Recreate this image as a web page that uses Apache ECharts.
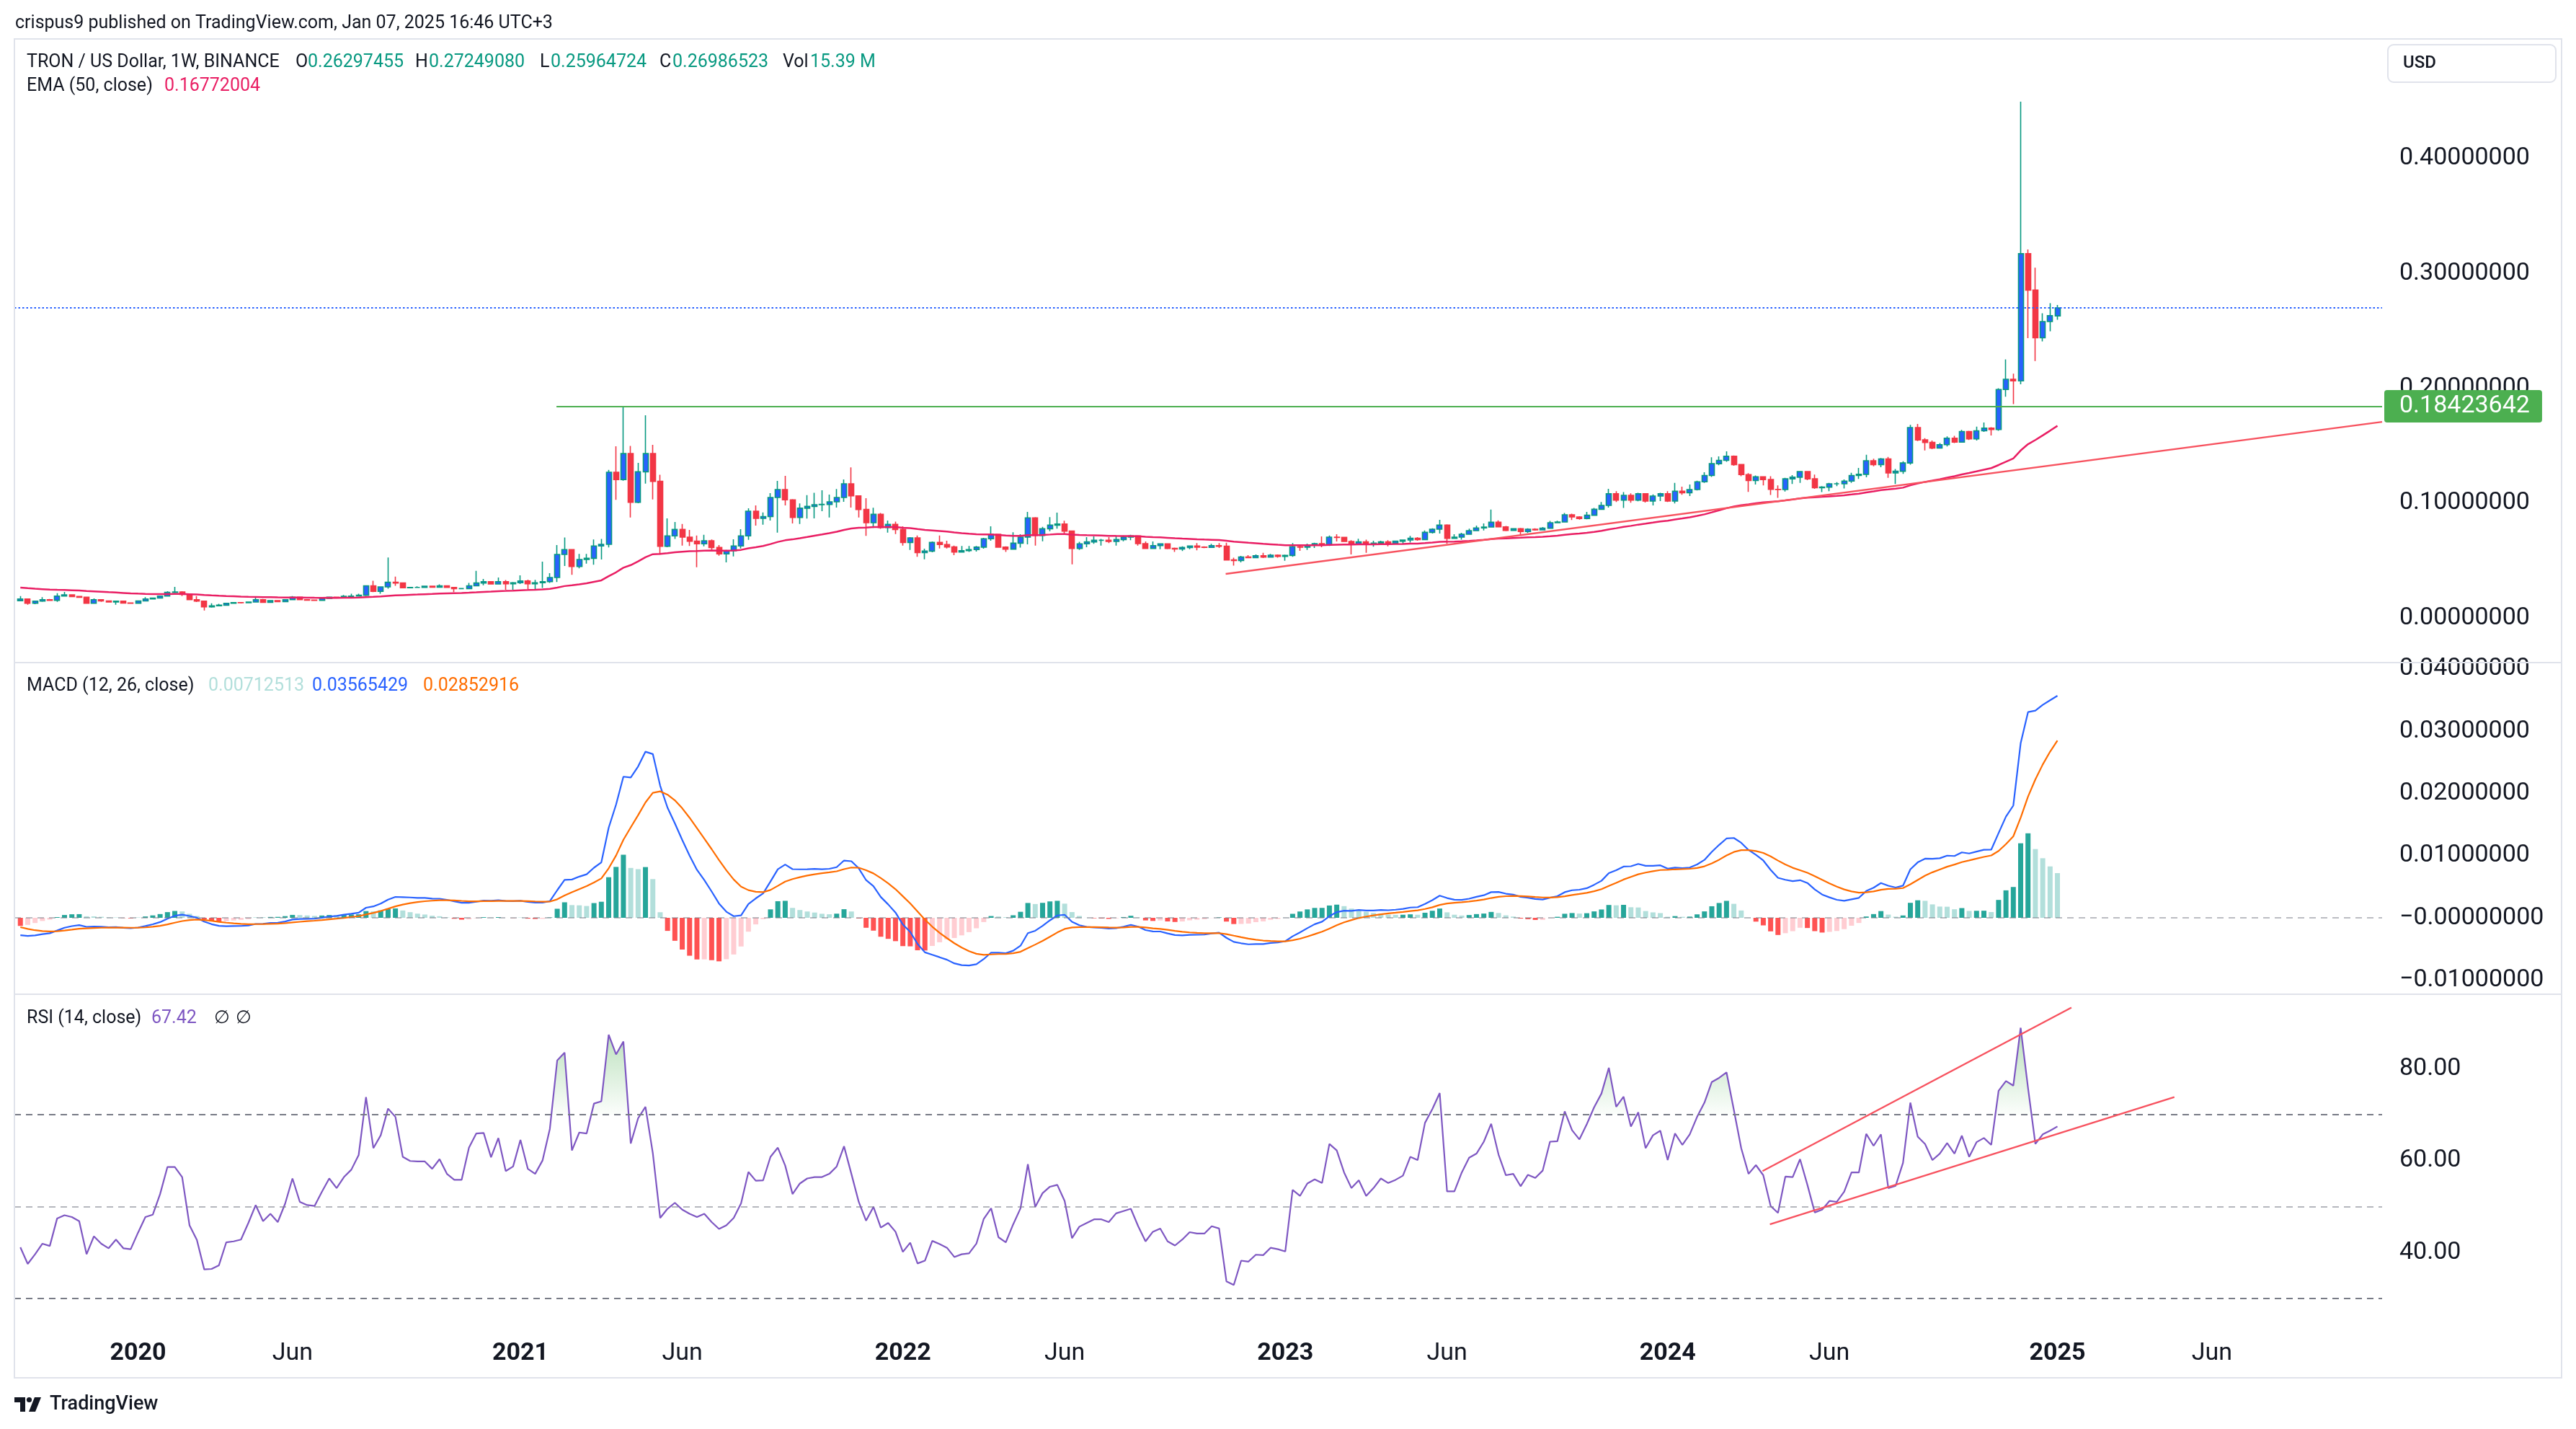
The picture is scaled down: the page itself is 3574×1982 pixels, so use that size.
<!DOCTYPE html>
<html>
<head>
<meta charset="utf-8">
<title>TRON / US Dollar, 1W, BINANCE</title>
<script src="https://cdn.jsdelivr.net/npm/echarts@6/dist/echarts.min.js"></script>
<style>
html,body{margin:0;padding:0;background:#ffffff;}
#chart{width:3574px;height:1982px;}
</style>
</head>
<body>
<div id="chart"></div>
<script>
// ---------- DATA (weekly bars, index 0 = week of 16 Sep 2019) ----------
const closes = [
0.0165,0.0127,0.0146,0.0159,0.0153,0.0190,0.0201,0.0186,0.0180,0.0127,
0.0159,0.0148,0.0138,0.0146,0.0130,0.0128,0.0148,0.0165,0.0173,0.0190,
0.0222,0.0226,0.0205,0.0159,0.0146,0.0096,0.0105,0.0111,0.0127,0.0134,
0.0132,0.0138,0.0159,0.0136,0.0150,0.0142,0.0159,0.0180,0.0159,0.0155,
0.0152,0.0170,0.0180,0.0174,0.0188,0.0190,0.0197,0.0280,0.0232,0.0270,
0.0310,0.0304,0.0262,0.0265,0.0265,0.0276,0.0268,0.0280,0.0265,0.0255,
0.0255,0.0280,0.0304,0.0316,0.0295,0.0316,0.0297,0.0306,0.0321,0.0297,
0.0306,0.0316,0.0352,0.0553,0.0595,0.0448,0.0509,0.0519,0.0626,0.0641,
0.1268,0.1205,0.1431,0.1007,0.1272,0.1431,0.1189,0.0624,0.0714,0.0770,
0.0703,0.0668,0.0645,0.0672,0.0613,0.0557,0.0584,0.0626,0.0714,0.0929,
0.0867,0.0882,0.1049,0.1118,0.1028,0.0875,0.0955,0.0971,0.0986,0.0988,
0.1011,0.1049,0.1168,0.1063,0.0944,0.0829,0.0902,0.0787,0.0814,0.0770,
0.0657,0.0697,0.0568,0.0582,0.0657,0.0639,0.0618,0.0574,0.0586,0.0595,
0.0616,0.0689,0.0728,0.0616,0.0599,0.0651,0.0703,0.0871,0.0718,0.0776,
0.0808,0.0818,0.0756,0.0605,0.0645,0.0662,0.0676,0.0676,0.0666,0.0682,
0.0703,0.0714,0.0647,0.0605,0.0630,0.0645,0.0605,0.0600,0.0613,0.0626,
0.0616,0.0614,0.0630,0.0624,0.0505,0.0500,0.0530,0.0525,0.0542,0.0530,
0.0546,0.0536,0.0544,0.0620,0.0616,0.0636,0.0647,0.0634,0.0703,0.0701,
0.0666,0.0641,0.0662,0.0641,0.0651,0.0662,0.0651,0.0668,0.0678,0.0693,
0.0682,0.0745,0.0772,0.0808,0.0693,0.0703,0.0728,0.0760,0.0783,0.0791,
0.0833,0.0793,0.0762,0.0776,0.0752,0.0772,0.0766,0.0781,0.0829,0.0835,
0.0898,0.0879,0.0866,0.0894,0.0946,0.0980,0.1081,0.1026,0.1067,0.1026,
0.1081,0.1018,0.1061,0.1081,0.1018,0.1104,0.1090,0.1118,0.1185,0.1240,
0.1343,0.1372,0.1407,0.1335,0.1248,0.1196,0.1228,0.1205,0.1119,0.1118,
0.1211,0.1225,0.1274,0.1211,0.1133,0.1139,0.1168,0.1168,0.1191,0.1240,
0.1250,0.1369,0.1335,0.1384,0.1263,0.1277,0.1349,0.1658,0.1550,0.1528,
0.1479,0.1508,0.1565,0.1530,0.1623,0.1559,0.1629,0.1652,0.1640,0.1989,
0.2078,0.2064,0.3171,0.2854,0.2439,0.2580,0.2632,0.26986523
];
const highs = [
0.0190,0.0167,0.0150,0.0180,0.0165,0.0215,0.0226,0.0203,0.0190,0.0182,
0.0170,0.0163,0.0150,0.0150,0.0148,0.0133,0.0152,0.0180,0.0178,0.0193,
0.0232,0.0270,0.0232,0.0212,0.0190,0.0150,0.0127,0.0122,0.0130,0.0138,
0.0138,0.0142,0.0180,0.0165,0.0155,0.0152,0.0163,0.0190,0.0182,0.0162,
0.0160,0.0175,0.0185,0.0183,0.0200,0.0210,0.0211,0.0285,0.0323,0.0275,
0.0526,0.0360,0.0305,0.0270,0.0275,0.0280,0.0280,0.0292,0.0282,0.0268,
0.0260,0.0305,0.0410,0.0340,0.0318,0.0352,0.0330,0.0312,0.0370,0.0333,
0.0331,0.0490,0.0389,0.0634,0.0700,0.0600,0.0557,0.0557,0.0683,0.0687,
0.1289,0.1494,0.1842,0.1498,0.1350,0.1764,0.1507,0.1247,0.0867,0.0835,
0.0818,0.0766,0.0718,0.0724,0.0683,0.0634,0.0592,0.0685,0.0773,0.0954,
0.0980,0.0918,0.1086,0.1193,0.1237,0.1034,0.0997,0.1069,0.1090,0.1111,
0.1074,0.1122,0.1206,0.1310,0.1063,0.1042,0.0959,0.0913,0.0848,0.0839,
0.0797,0.0703,0.0718,0.0603,0.0665,0.0718,0.0672,0.0630,0.0626,0.0626,
0.0626,0.0697,0.0797,0.0728,0.0624,0.0745,0.0728,0.0923,0.0877,0.0793,
0.0877,0.0917,0.0846,0.0760,0.0662,0.0703,0.0710,0.0687,0.0703,0.0710,
0.0718,0.0724,0.0718,0.0666,0.0666,0.0650,0.0645,0.0613,0.0624,0.0630,
0.0651,0.0624,0.0645,0.0651,0.0655,0.0525,0.0540,0.0546,0.0553,0.0567,
0.0557,0.0553,0.0551,0.0651,0.0634,0.0647,0.0655,0.0710,0.0718,0.0728,
0.0703,0.0676,0.0689,0.0682,0.0672,0.0672,0.0676,0.0672,0.0682,0.0714,
0.0703,0.0762,0.0781,0.0854,0.0814,0.0728,0.0741,0.0777,0.0804,0.0823,
0.0944,0.0850,0.0800,0.0781,0.0783,0.0781,0.0781,0.0791,0.0844,0.0846,
0.0913,0.0908,0.0885,0.0923,0.0957,0.1009,0.1124,0.1104,0.1095,0.1084,
0.1090,0.1085,0.1075,0.1090,0.1104,0.1176,0.1142,0.1162,0.1194,0.1268,
0.1398,0.1407,0.1450,0.1415,0.1340,0.1260,0.1240,0.1234,0.1234,0.1153,
0.1220,0.1243,0.1277,0.1280,0.1248,0.1147,0.1176,0.1182,0.1205,0.1263,
0.1306,0.1421,0.1386,0.1392,0.1401,0.1297,0.1364,0.1681,0.1689,0.1565,
0.1545,0.1522,0.1580,0.1586,0.1637,0.1630,0.1666,0.1701,0.1660,0.2000,
0.2251,0.2127,0.4495,0.3208,0.3050,0.2652,0.2741,0.27249080
];
const lows = [
0.0146,0.0115,0.0120,0.0140,0.0150,0.0140,0.0186,0.0180,0.0175,0.0125,
0.0125,0.0140,0.0133,0.0115,0.0125,0.0122,0.0126,0.0145,0.0163,0.0170,
0.0185,0.0215,0.0190,0.0155,0.0138,0.0065,0.0090,0.0102,0.0108,0.0122,
0.0126,0.0128,0.0135,0.0130,0.0132,0.0138,0.0138,0.0155,0.0155,0.0150,
0.0148,0.0150,0.0168,0.0170,0.0172,0.0180,0.0186,0.0190,0.0225,0.0210,
0.0255,0.0280,0.0258,0.0258,0.0262,0.0262,0.0264,0.0266,0.0262,0.0225,
0.0250,0.0250,0.0280,0.0285,0.0290,0.0295,0.0245,0.0245,0.0295,0.0250,
0.0252,0.0260,0.0305,0.0313,0.0452,0.0375,0.0432,0.0473,0.0463,0.0509,
0.0614,0.1028,0.1195,0.0875,0.0999,0.1170,0.1032,0.0551,0.0616,0.0687,
0.0630,0.0626,0.0442,0.0624,0.0592,0.0542,0.0483,0.0536,0.0605,0.0680,
0.0804,0.0812,0.0848,0.0743,0.0980,0.0823,0.0818,0.0865,0.0867,0.0929,
0.0875,0.0961,0.1011,0.0961,0.0875,0.0714,0.0783,0.0776,0.0743,0.0730,
0.0630,0.0592,0.0532,0.0511,0.0571,0.0605,0.0605,0.0546,0.0571,0.0574,
0.0578,0.0603,0.0672,0.0616,0.0574,0.0595,0.0613,0.0641,0.0630,0.0668,
0.0755,0.0777,0.0735,0.0467,0.0592,0.0615,0.0645,0.0630,0.0651,0.0630,
0.0668,0.0676,0.0630,0.0600,0.0603,0.0598,0.0598,0.0574,0.0582,0.0598,
0.0588,0.0607,0.0614,0.0609,0.0500,0.0456,0.0484,0.0519,0.0525,0.0521,
0.0530,0.0525,0.0498,0.0532,0.0584,0.0592,0.0609,0.0615,0.0626,0.0666,
0.0662,0.0553,0.0641,0.0567,0.0620,0.0641,0.0624,0.0641,0.0641,0.0657,
0.0672,0.0682,0.0735,0.0735,0.0645,0.0687,0.0682,0.0724,0.0756,0.0762,
0.0787,0.0790,0.0755,0.0756,0.0714,0.0739,0.0760,0.0762,0.0777,0.0825,
0.0833,0.0853,0.0855,0.0858,0.0890,0.0940,0.0960,0.1009,0.0957,0.1003,
0.1015,0.1005,0.0980,0.1018,0.1009,0.0997,0.1072,0.1061,0.1110,0.1176,
0.1228,0.1330,0.1360,0.1325,0.1234,0.1098,0.1162,0.1153,0.1070,0.1046,
0.1100,0.1167,0.1176,0.1200,0.1124,0.1095,0.1104,0.1147,0.1127,0.1176,
0.1211,0.1225,0.1320,0.1312,0.1220,0.1167,0.1254,0.1335,0.1540,0.1459,
0.1470,0.1479,0.1493,0.1522,0.1531,0.1550,0.1545,0.1620,0.1588,0.1630,
0.1926,0.1862,0.2035,0.2436,0.2237,0.2407,0.2496,0.25964724
];
const firstOpen = 0.0150;
const lastOpen = 0.26297455;
const rsiValues = [
41.1,37.5,39.6,41.9,41.4,47.4,48.1,47.7,46.8,39.6,
43.5,41.9,40.9,42.8,40.9,40.7,44.3,47.7,48.2,52.7,
58.6,58.6,56.4,45.9,42.7,36.3,36.4,37.2,42.2,42.4,
42.8,46.4,50.3,46.8,48.4,46.6,50.6,56.1,51.0,50.3,
50.1,53.2,56.1,54.0,56.4,58.0,61.2,73.8,62.7,65.5,
71.3,69.5,60.8,59.9,59.8,59.8,58.2,60.3,57.1,55.8,
55.8,62.8,65.9,66.0,60.7,64.9,57.7,58.7,64.5,58.2,
57.1,60.0,66.9,81.8,83.5,62.2,66.1,65.9,72.4,72.9,
87.4,83.1,85.9,63.7,69.2,71.7,61.6,47.5,49.5,50.8,
49.3,48.4,47.7,48.4,46.6,45.1,45.9,47.5,50.7,57.5,
55.6,55.7,60.8,62.8,58.9,52.7,55.0,56.1,56.4,56.4,
57.1,58.7,63.1,57.1,51.0,46.9,49.9,45.4,46.4,44.5,
40.1,42.1,37.6,38.2,42.5,41.8,41.0,39.0,39.6,39.8,
41.9,47.3,49.6,43.3,42.2,46.1,49.6,59.2,49.9,52.9,
54.3,54.7,51.2,43.1,45.6,46.4,47.2,47.2,46.6,48.5,
49.0,49.5,45.7,42.4,44.5,45.2,42.4,41.5,42.8,44.4,
44.1,44.1,45.7,45.2,33.7,32.9,38.2,38.0,39.5,39.4,
41.0,40.7,40.2,53.6,52.3,55.0,55.9,55.1,63.6,62.2,
57.4,54.0,55.7,52.3,54.0,56.1,55.1,55.8,56.7,60.8,
60.1,68.2,71.2,74.7,53.3,53.3,57.4,60.6,61.5,64.1,
68.0,61.3,56.8,57.1,54.4,56.9,56.2,57.8,64.1,64.2,
70.7,66.6,64.6,67.9,71.6,74.6,80.2,71.7,73.9,67.4,
70.5,62.7,65.5,66.5,60.1,65.9,63.4,65.7,69.5,72.6,
77.1,78.0,79.2,71.0,62.7,57.1,59.0,56.8,50.1,48.6,
56.5,56.4,60.3,54.7,48.7,49.3,51.2,51.0,53.2,57.4,
57.4,65.8,63.2,65.7,54.0,54.5,59.5,72.6,65.2,63.6,
60.1,61.5,63.8,61.5,65.4,60.8,64.0,64.9,63.4,75.2,
77.3,76.3,88.9,75.8,63.6,65.7,66.5,67.42
];
// indicator state at the first bar
const emaSeed = 0.0264;
const ema12Seed = 0.0168;
const ema26Seed = 0.0196;
const signalSeed = -0.0015;

// time axis labels (week index -> text)
const tickWeeks  = [16, 37, 68, 90, 120, 142, 172, 194, 224, 246, 277, 298];
const tickLabels = ['2020','Jun','2021','Jun','2022','Jun','2023','Jun','2024','Jun','2025','Jun'];
const priceTicks = [0, 0.1, 0.2, 0.3, 0.4];
const macdTicks  = [-0.01, 0, 0.01, 0.02, 0.03, 0.04];
const rsiTicks   = [40, 60, 80];

// drawings
const resistanceLevel = 0.18423642;
const resistanceStart = 72.9;
const priceTrend    = [[163.9, 0.0383], [321.15, 0.1707]];
const rsiUpperTrend = [[236.9, 57.7], [278.9, 93.3]];
const rsiLowerTrend = [[237.9, 46.1], [292.9, 73.8]];
const rsiLevels = [70, 50, 30];
const overbought = 70;

// legend texts shown on the picture
const volumeText = '15.39 M';
const emaLegend = '0.16772004';
const macdLegend = ['0.00712513', '0.03565429', '0.02852916'];
const rsiLegend = '67.42';

// ---------- DERIVED ----------
const N = closes.length;
const opens = closes.map((c, i) => i === 0 ? firstOpen : closes[i - 1]);
opens[N - 1] = lastOpen;
const candleData = closes.map((c, i) => {
  const o = opens[i];
  return [i, o, c, Math.min(lows[i], o, c), Math.max(highs[i], o, c)];
});
function emaOf(src, period, seed) {
  const a = 2 / (period + 1);
  const out = [];
  let e = seed;
  src.forEach((v, i) => { e = i === 0 ? seed : a * v + (1 - a) * e; out.push(e); });
  return out;
}
const ema50 = emaOf(closes, 50, emaSeed);
const ema12 = emaOf(closes, 12, ema12Seed);
const ema26 = emaOf(closes, 26, ema26Seed);
const macd = ema12.map((v, i) => v - ema26[i]);
const signal = emaOf(macd, 9, signalSeed);
const hist = macd.map((v, i) => v - signal[i]);
const histData = hist.map((h, i) => {
  const prev = i > 0 ? hist[i - 1] : h;
  let col;
  if (h >= 0) col = prev < h ? '#26A69A' : '#B2DFDB';
  else col = prev < h ? '#FFCDD2' : '#FF5252';
  return { value: [i, h], itemStyle: { color: col } };
});
// overbought runs: contiguous stretches of the RSI above 70, closed at the 70 crossings
const obRuns = [];
{
  let run = null;
  rsiValues.forEach((v, i) => {
    const p = i > 0 ? rsiValues[i - 1] : v;
    if (v > overbought) {
      if (!run) {
        run = [];
        if (i > 0 && p < overbought) run.push([i - 1 + (overbought - p) / (v - p), overbought]);
        else run.push([i, overbought]);
      }
      run.push([i, v]);
    } else if (run) {
      run.push([i - 1 + (overbought - p) / (v - p), overbought]);
      obRuns.push(run); run = null;
    }
  });
  if (run) { run.push([N - 1, overbought]); obRuns.push(run); }
}

// ---------- LAYOUT ----------
const FONT = 'Roboto';
const xMin = -0.81, xMax = 321.15;
const gridL = 20, gridW = 3285;
const axisLabelStyle = { fontFamily: FONT, fontSize: 34, color: '#131722', margin: 24, align: 'left' };
function fmt8(v) { return (v <= 0 ? '\u2212' : '') + Math.abs(v).toFixed(8); }

const xAxisBase = (gi, showLabels) => ({
  type: 'value', gridIndex: gi, min: xMin, max: xMax,
  axisLine: { show: false }, axisTick: { show: false }, splitLine: { show: false },
  axisLabel: showLabels ? {
    customValues: tickWeeks, margin: 13,
    formatter: (v) => {
      const k = tickWeeks.indexOf(v);
      const t = k >= 0 ? tickLabels[k] : '';
      return /^\d{4}$/.test(t) ? '{y|' + t + '}' : '{m|' + t + '}';
    },
    rich: {
      y: { fontFamily: FONT, fontSize: 34, fontWeight: 'bold', color: '#131722', lineHeight: 36 },
      m: { fontFamily: FONT, fontSize: 34, color: '#131722', lineHeight: 36 }
    }
  } : { show: false }
});

const lineNoSym = { type: 'line', showSymbol: false, symbol: 'none', silent: true, animation: false };

const option = {
  animation: false,
  backgroundColor: '#ffffff',
  textStyle: { fontFamily: FONT },
  grid: [
    { left: gridL, top: 55, width: gridW, height: 864, containLabel: false, outerBoundsMode: 'none' },
    { left: gridL, top: 919, width: gridW, height: 460, containLabel: false, outerBoundsMode: 'none' },
    { left: gridL, top: 1379, width: gridW, height: 467, containLabel: false, outerBoundsMode: 'none' }
  ],
  xAxis: [xAxisBase(0, false), xAxisBase(1, false), xAxisBase(2, true)],
  yAxis: [
    { type: 'value', gridIndex: 0, position: 'right', min: -0.0389, max: 0.5035, scale: true,
      axisLine: { show: false }, axisTick: { show: false }, splitLine: { show: false },
      axisLabel: Object.assign({ customValues: priceTicks, formatter: (v) => v.toFixed(8) }, axisLabelStyle) },
    { type: 'value', gridIndex: 1, position: 'right', min: -0.01228, max: 0.04102, scale: true,
      axisLine: { show: false }, axisTick: { show: false }, splitLine: { show: false },
      axisLabel: Object.assign({ customValues: macdTicks, formatter: fmt8 }, axisLabelStyle) },
    { type: 'value', gridIndex: 2, position: 'right', min: 22.9, max: 96.2, scale: true,
      axisLine: { show: false }, axisTick: { show: false }, splitLine: { show: false },
      axisLabel: Object.assign({ customValues: rsiTicks, formatter: (v) => v.toFixed(2) }, axisLabelStyle) }
  ],
  series: [
    {
      type: 'candlestick', xAxisIndex: 0, yAxisIndex: 0, data: candleData,
      barWidth: 7.5, silent: true,
      itemStyle: { color: '#2962FF', color0: '#F23645', borderColor: '#089981', borderColor0: '#F23645', borderWidth: 1.6 },
      markLine: {
        silent: true, symbol: ['none', 'none'], animation: false,
        data: [
          [
            { coord: [resistanceStart, resistanceLevel],
              lineStyle: { color: '#4CAF50', width: 2.2, type: 'solid' },
              label: { show: true, position: 'end', distance: 3, formatter: resistanceLevel.toFixed(8),
                       fontFamily: FONT, fontSize: 34, color: '#ffffff', backgroundColor: '#4CAF50',
                       padding: [6, 17, 5, 21], borderRadius: 4 } },
            { coord: [xMax, resistanceLevel] }
          ],
          { yAxis: closes[N - 1], lineStyle: { color: '#2962FF', width: 2, type: [2.5, 3] }, label: { show: false } }
        ]
      }
    },
    Object.assign({}, lineNoSym, { name: 'EMA', xAxisIndex: 0, yAxisIndex: 0, data: ema50.map((v, i) => [i, v]),
      lineStyle: { color: '#E91E63', width: 2.5 }, z: 3 }),
    Object.assign({}, lineNoSym, { xAxisIndex: 0, yAxisIndex: 0, data: priceTrend,
      lineStyle: { color: '#F7525F', width: 2.4 }, z: 3 }),
    {
      type: 'bar', xAxisIndex: 1, yAxisIndex: 1, data: histData, barWidth: 7, silent: true, animation: false,
      markLine: { silent: true, symbol: ['none', 'none'], animation: false, label: { show: false },
        data: [{ yAxis: 0, lineStyle: { color: 'rgba(120,123,134,0.5)', width: 2, type: [9, 7] } }] }
    },
    Object.assign({}, lineNoSym, { xAxisIndex: 1, yAxisIndex: 1, data: macd.map((v, i) => [i, v]),
      lineStyle: { color: '#2962FF', width: 2.2 }, z: 3 }),
    Object.assign({}, lineNoSym, { xAxisIndex: 1, yAxisIndex: 1, data: signal.map((v, i) => [i, v]),
      lineStyle: { color: '#FF6D00', width: 2.2 }, z: 3 }),
    {
      type: 'custom', xAxisIndex: 2, yAxisIndex: 2, silent: true, animation: false, z: 2,
      data: obRuns.map((r, k) => [k, r[0][0], r[r.length - 1][0]]),
      encode: { x: [1, 2], y: [] },
      renderItem: (params, api) => {
        const run = obRuns[api.value(0)];
        const pts = run.map(p => api.coord([p[0], p[1]]));
        const yTop = api.coord([0, 90])[1];
        const yBot = api.coord([0, overbought])[1];
        return {
          type: 'polygon', shape: { points: pts },
          style: { fill: new echarts.graphic.LinearGradient(0, yTop, 0, yBot, [
            { offset: 0, color: 'rgba(76,175,80,0.42)' }, { offset: 1, color: 'rgba(76,175,80,0.02)' }], true) }
        };
      }
    },
    Object.assign({}, lineNoSym, { xAxisIndex: 2, yAxisIndex: 2, data: rsiValues.map((v, i) => [i, v]),
      lineStyle: { color: '#7E57C2', width: 2.2 }, z: 4,
      markLine: { silent: true, symbol: ['none', 'none'], animation: false, label: { show: false },
        data: rsiLevels.map(l => ({ yAxis: l, lineStyle: { color: l === 50 ? 'rgba(120,123,134,0.55)' : '#787B86', width: 2, type: [9, 7] } })) } }),
    Object.assign({}, lineNoSym, { xAxisIndex: 2, yAxisIndex: 2, data: rsiUpperTrend,
      lineStyle: { color: '#F7525F', width: 2.4 }, z: 5 }),
    Object.assign({}, lineNoSym, { xAxisIndex: 2, yAxisIndex: 2, data: rsiLowerTrend,
      lineStyle: { color: '#F7525F', width: 2.4 }, z: 5 })
  ],
  graphic: []
};

// ---------- DECORATION (frame, legends, header, logo) ----------
const T = (x, y, text, fill, size, weight) => ({
  type: 'text', x: x, y: y, silent: true, z: 100,
  style: { text: text, fill: fill || '#131722', font: (weight || 'normal') + ' ' + (size || 25) + 'px ' + FONT, verticalAlign: 'middle' }
});
const L = (x1, y1, x2, y2, col, w) => ({ type: 'line', silent: true, z: 90,
  shape: { x1: x1, y1: y1, x2: x2, y2: y2 }, style: { stroke: col || '#E0E3EB', lineWidth: w || 2 } });
const green = '#089981';
const last = N - 1;
option.graphic = [
  { type: 'rect', silent: true, z: 90, shape: { x: 20, y: 54, width: 3534, height: 1857 },
    style: { fill: 'none', stroke: '#E0E3EB', lineWidth: 2 } },
  L(20, 919, 3554, 919), L(20, 1379, 3554, 1379),
  T(21, 33, 'crispus9 published on TradingView.com, Jan 07, 2025 16:46 UTC+3', '#131722', 25),
  T(37, 87, 'TRON / US Dollar, 1W, BINANCE'),
  T(410, 87, 'O'), T(427, 87, opens[last].toFixed(8), green),
  T(576, 87, 'H'), T(595, 87, highs[last].toFixed(8), green),
  T(749, 87, 'L'), T(764, 87, lows[last].toFixed(8), green),
  T(915, 87, 'C'), T(933, 87, closes[last].toFixed(8), green),
  T(1086, 87, 'Vol'), T(1124, 87, volumeText, green),
  T(37, 120, 'EMA (50, close)'), T(228, 120, emaLegend, '#E91E63'),
  T(37, 952, 'MACD (12, 26, close)'),
  T(289, 952, macdLegend[0], '#B2DFDB'), T(433, 952, macdLegend[1], '#2962FF'), T(587, 952, macdLegend[2], '#FF6D00'),
  T(37, 1413, 'RSI (14, close)'), T(210, 1413, rsiLegend, '#7E57C2'),
  T(297, 1413, '\u2205'), T(327, 1413, '\u2205'),
  { type: 'rect', silent: true, z: 95, shape: { x: 3313, y: 62, width: 233, height: 52, r: 8 },
    style: { fill: '#ffffff', stroke: '#E0E3EB', lineWidth: 2 } },
  T(3334, 88, 'USD', '#131722', 24, '500'),
  // TradingView logo
  { type: 'polygon', silent: true, z: 100, shape: { points: [[20, 1938], [35, 1938], [35, 1958], [28, 1958], [28, 1945], [20, 1945]] }, style: { fill: '#131722' } },
  { type: 'circle', silent: true, z: 100, shape: { cx: 40.5, cy: 1941.5, r: 3.6 }, style: { fill: '#131722' } },
  { type: 'polygon', silent: true, z: 100, shape: { points: [[48, 1938], [57, 1938], [49, 1958], [40, 1958]] }, style: { fill: '#131722' } },
  T(69, 1948, 'TradingView', '#131722', 27, '500')
];

const chart = echarts.init(document.getElementById('chart'), null, { renderer: 'canvas', width: 3574, height: 1982 });
chart.setOption(option);
</script>
</body>
</html>
